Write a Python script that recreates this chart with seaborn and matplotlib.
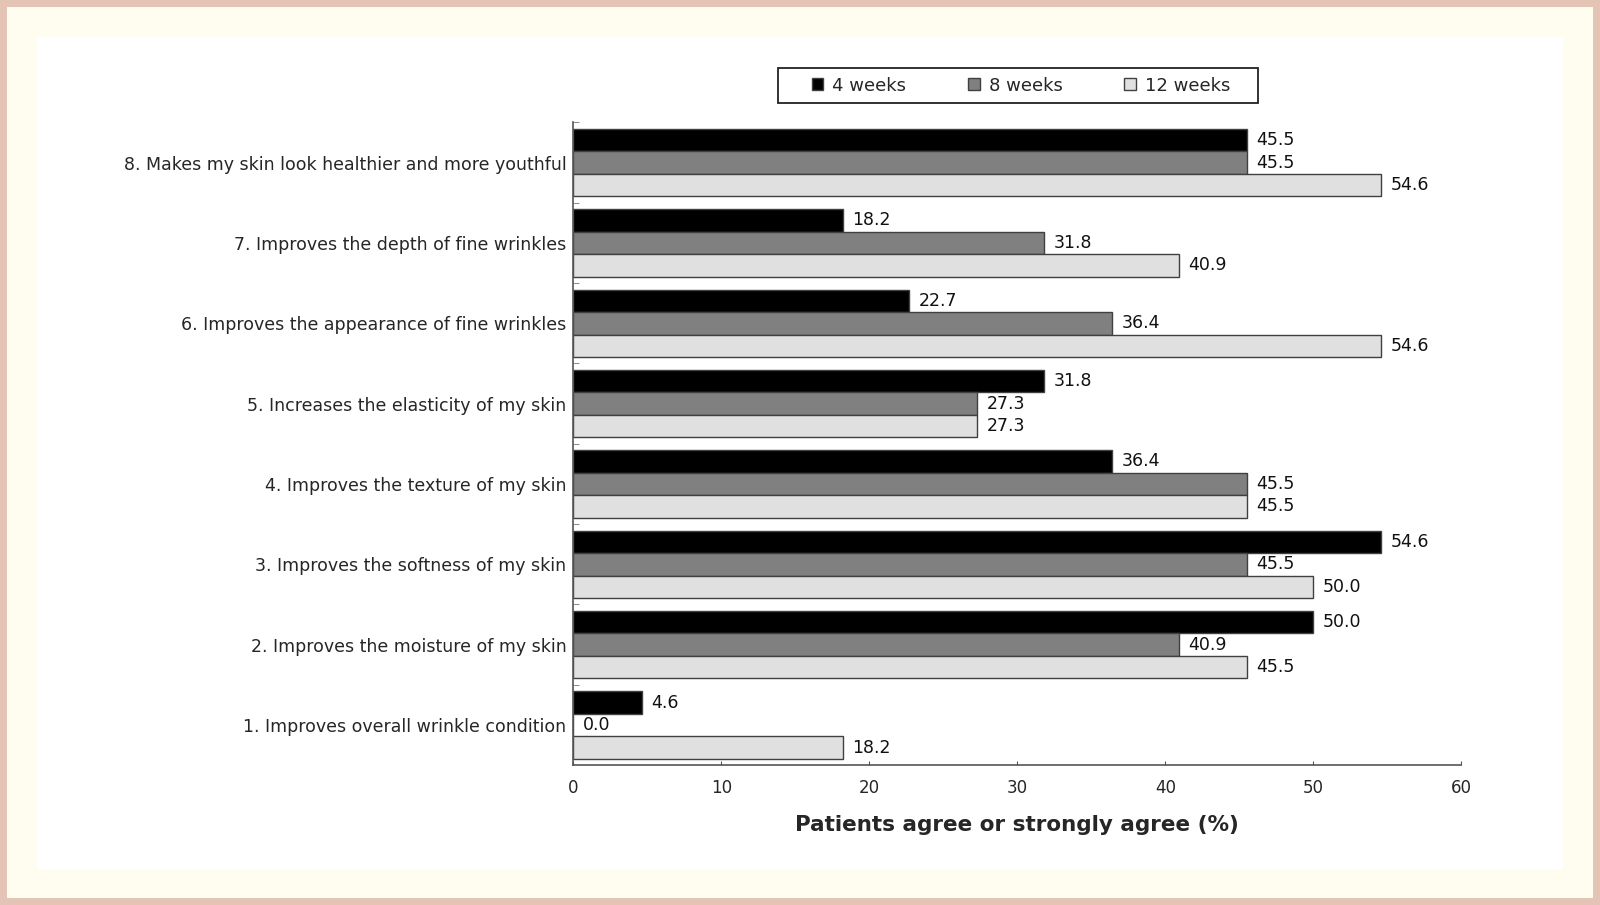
import pandas as pd
import matplotlib.pyplot as plt
import seaborn as sns
from matplotlib.patches import Rectangle

sns.set_style("ticks")
plt.rcParams['font.family'] = ['DejaVu Sans']

# questionnaire items, top to bottom as shown
items = [
    "8. Makes my skin look healthier and more youthful",
    "7. Improves the depth of fine wrinkles",
    "6. Improves the appearance of fine wrinkles",
    "5. Increases the elasticity of my skin",
    "4. Improves the texture of my skin",
    "3. Improves the softness of my skin",
    "2. Improves the moisture of my skin",
    "1. Improves overall wrinkle condition",
]
periods = ["4 weeks", "8 weeks", "12 weeks"]
week4 = [45.5, 18.2, 22.7, 31.8, 36.4, 54.6, 50.0, 4.6]
week8 = [45.5, 31.8, 36.4, 27.3, 45.5, 45.5, 40.9, 0.0]
week12 = [54.6, 40.9, 54.6, 27.3, 45.5, 50.0, 45.5, 18.2]

df = pd.DataFrame({
    "item": items * 3,
    "period": [periods[0]] * 8 + [periods[1]] * 8 + [periods[2]] * 8,
    "pct": week4 + week8 + week12,
})

fig = plt.figure(figsize=(16, 9.05), dpi=100)
fig.patch.set_facecolor("#e4c4b4")
fig.patches.append(Rectangle((0.0045, 0.008), 0.991, 0.984, transform=fig.transFigure,
                             facecolor="#fffdf0", edgecolor="none", zorder=-2))
fig.patches.append(Rectangle((0.023, 0.0395), 0.954, 0.92, transform=fig.transFigure,
                             facecolor="white", edgecolor="none", zorder=-1))
# legend box
fig.patches.append(Rectangle((0.486, 0.8861), 0.3003, 0.0384, transform=fig.transFigure,
                             facecolor="white", edgecolor="#222222", linewidth=1.3, zorder=1))

ax = fig.add_axes([0.3584, 0.1545, 0.5549, 0.7102])
ax.set_facecolor("none")

sns.barplot(data=df, y="item", x="pct", hue="period", order=items, hue_order=periods,
            palette=["#000000", "#808080", "#e0e0e0"], orient="h", width=0.84,
            edgecolor="#404040", linewidth=1.0, ax=ax)

for c in ax.containers:
    ax.bar_label(c, fmt="%.1f", padding=7, fontsize=12.5, color="#111111")

handles, labels = ax.get_legend_handles_labels()
ax.get_legend().remove()
leg = fig.legend(handles, labels, loc="center", bbox_to_anchor=(0.638, 0.9053), ncol=3,
                 frameon=False, fontsize=13,
                 handlelength=0.65, handleheight=0.65, handletextpad=0.5,
                 columnspacing=3.4, borderpad=0.2)
leg.set_zorder(2)

ax.set_xlim(0, 60)
ax.set_ylim(7.5, -0.5)
ax.set_xticks(range(0, 61, 10))
ax.set_xlabel("Patients agree or strongly agree (%)", fontsize=15.5, fontweight="bold", labelpad=13)
ax.set_ylabel("")

ax.tick_params(axis="x", direction="in", length=3, color="#555555", labelsize=12, pad=10)
ax.tick_params(axis="y", which="major", length=0, labelsize=12.5, pad=5)
ax.set_yticks([i - 0.5 for i in range(8)], minor=True)
ax.tick_params(axis="y", which="minor", direction="in", length=4, color="#777777")

sns.despine(ax=ax)
for s in ["left", "bottom"]:
    ax.spines[s].set_color("#555555")
    ax.spines[s].set_linewidth(1.2)

fig.savefig("out.png", dpi=100, facecolor=fig.get_facecolor())
